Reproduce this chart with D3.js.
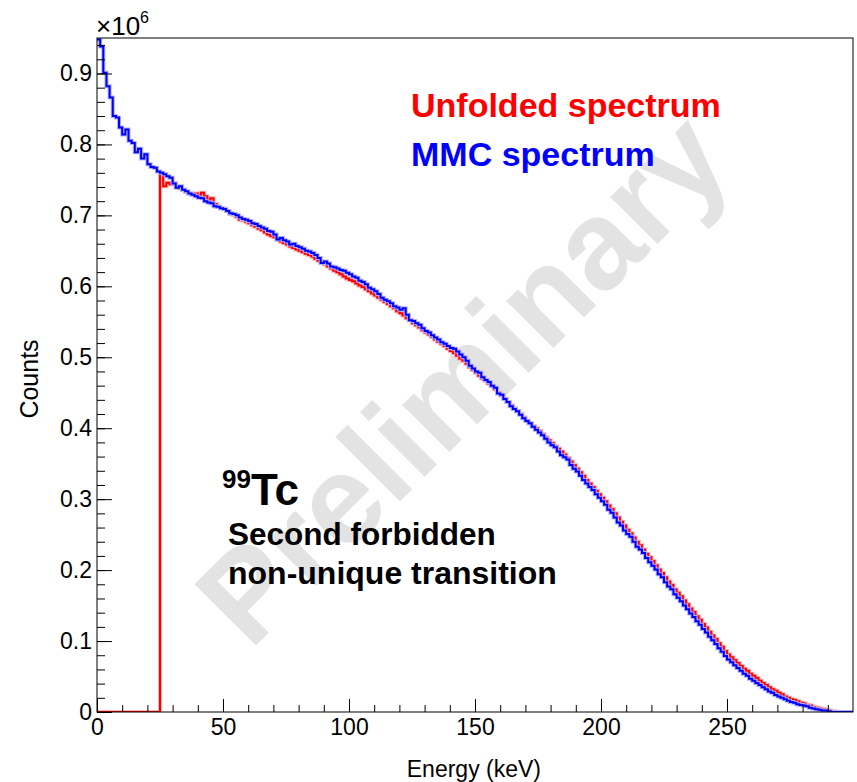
<!DOCTYPE html>
<html>
<head>
<meta charset="utf-8">
<script src="https://cdn.jsdelivr.net/npm/d3@7"></script>
<style>
  body { margin: 0; background: #fff; }
  svg { display: block; font-family: "Liberation Sans", Arial, Helvetica, sans-serif; }
</style>
</head>
<body>
<svg id="chart" width="857" height="782"></svg>
<script>
// Histogram binning (keV)
const binWidth = 1.25;
const energyRange = [0, 300];

// Axis ticks
const energyTicks = [0, 50, 100, 150, 200, 250];
const energyMinorTicks = d3.range(0, 300, 10);
const countTicks = [0, 0.1, 0.2, 0.3, 0.4, 0.5, 0.6, 0.7, 0.8, 0.9];
const countMinorTicks = d3.range(0, 0.95, 0.02);

// MMC spectrum, counts per bin in units of 1e3
const mmcSpectrum = [
  948, 938, 901, 882, 866, 840, 838, 824, 814, 821, 805, 802, 789, 794, 780, 786,
  772, 768, 767, 762, 760, 758, 755, 753, 745, 739, 741, 736, 734, 731, 729, 727,
  725, 724, 720, 718, 717, 713, 712, 710, 709, 706, 703, 702, 700, 697, 695, 694,
  692, 689, 688, 685, 683, 681, 678, 677, 673, 666, 668, 665, 663, 659, 660, 657,
  655, 653, 650, 649, 647, 644, 640, 633, 635, 632, 628, 627, 625, 623, 622, 619,
  617, 614, 612, 608, 606, 603, 598, 596, 593, 589, 584, 581, 579, 576, 572, 570,
  567, 569, 560, 552, 551, 548, 546, 541, 537, 535, 531, 528, 525, 521, 519, 516,
  513, 512, 508, 504, 500, 495, 488, 484, 480, 478, 472, 468, 465, 460, 457, 449,
  447, 441, 437, 431, 427, 424, 419, 414, 410, 407, 402, 398, 394, 390, 385, 380,
  376, 373, 367, 362, 359, 356, 348, 343, 339, 333, 327, 322, 317, 313, 307, 302,
  297, 292, 285, 281, 274, 267, 263, 256, 251, 247, 240, 233, 229, 224, 217, 211,
  206, 201, 194, 190, 183, 177, 173, 166, 161, 156, 150, 145, 139, 134, 128, 123,
  117, 112, 106, 101, 96, 90, 85, 79, 74, 70, 66, 62, 58, 54, 51, 47,
  44, 41, 38, 35, 32, 29, 27, 24, 22, 20, 18, 16, 14, 13, 11, 10,
  9, 8, 6, 5, 4, 3, 2, 2, 1, 0, 0, 0, 0, 0, 0, 0
];

// Unfolded spectrum, counts per bin in units of 1e3 (histogram stops at 293.75 keV)
const unfoldedSpectrum = [
  0, 0, 0, 0, 0, 0, 0, 0, 0, 0, 0, 0, 0, 0, 0, 0,
  0, 0, 0, 0, 760, 741, 746, 744, 745, 740, 738, 736, 733, 731, 730, 731,
  729, 732, 727, 722, 724, 716, 712, 710, 709, 706, 702, 701, 698, 694, 693, 691,
  689, 686, 684, 681, 679, 676, 673, 671, 669, 666, 663, 661, 659, 656, 654, 652,
  650, 648, 646, 644, 642, 639, 636, 633, 631, 628, 625, 622, 620, 617, 614, 611,
  609, 607, 604, 601, 599, 596, 593, 590, 587, 584, 581, 578, 575, 572, 569, 565,
  562, 559, 555, 552, 548, 545, 542, 538, 535, 532, 529, 525, 522, 519, 516, 512,
  509, 506, 502, 498, 495, 491, 486, 482, 478, 474, 470, 467, 463, 459, 455, 450,
  446, 442, 437, 432, 428, 424, 420, 415, 411, 407, 403, 400, 396, 392, 387, 383,
  379, 375, 371, 367, 363, 358, 353, 348, 343, 338, 333, 327, 322, 317, 312, 307,
  302, 297, 291, 286, 280, 274, 268, 263, 257, 252, 246, 240, 235, 229, 223, 218,
  213, 207, 201, 196, 190, 184, 179, 173, 168, 163, 157, 152, 146, 141, 135, 130,
  124, 119, 113, 108, 103, 97, 92, 86, 81, 77, 73, 69, 65, 61, 58, 54,
  51, 48, 44, 41, 38, 35, 32, 30, 27, 25, 22, 20, 18, 17, 15, 13,
  12, 10, 9, 7, 6, 5, 4, 3, 2, 1, 1
];

const series = [
  {name: 'Unfolded spectrum', color: '#ff0000', halo: '#ffb0b0', values: unfoldedSpectrum},
  {name: 'MMC spectrum', color: '#0000ff', halo: '#b0b0ff', values: mmcSpectrum}
];

const frame = {left: 97, top: 38, right: 853, bottom: 712};

const svg = d3.select('#chart');

const x = d3.scaleLinear().domain(energyRange).range([frame.left, frame.right]);
const y = d3.scaleLinear().domain([0, 0.95]).range([frame.bottom, frame.top]);

svg.append('defs').
  append('clipPath').
    attr('id', 'plot-clip').
  append('rect').
    attr('x', frame.left).
    attr('y', frame.top).
    attr('width', frame.right - frame.left).
    attr('height', frame.bottom - frame.top);

// Watermark sits behind everything
svg.append('text').
  attr('transform', 'translate(462,378) rotate(-45)').
  attr('text-anchor', 'middle').
  attr('dominant-baseline', 'central').
  attr('font-weight', 'bold').
  attr('font-size', 126).
  attr('fill', '#e3e3e3').
  text('Preliminary');

// Histogram as a step line: one point per bin edge
const stepLine = d3.line().
  x((d) => x(d.edge)).
  y((d) => y(d.value / 1000)).
  curve(d3.curveStepAfter);

const toSteps = (values) => {
  const pts = values.map((v, i) => ({edge: i * binWidth, value: v}));
  pts.push({edge: values.length * binWidth, value: values[values.length - 1]});
  return pts;
};

const plot = svg.append('g').attr('clip-path', 'url(#plot-clip)');
series.forEach((s) => {
  plot.append('path').
    attr('d', stepLine(toSteps(s.values))).
    attr('fill', 'none').
    attr('stroke', s.halo).
    attr('stroke-width', 4);
  plot.append('path').
    attr('d', stepLine(toSteps(s.values))).
    attr('fill', 'none').
    attr('stroke', s.color).
    attr('stroke-width', 2);
});

// Axes, ticks point inward like ROOT
const xAxis = svg.append('g').attr('transform', `translate(0,${frame.bottom})`);
xAxis.call(d3.axisBottom(x).tickValues(energyMinorTicks).tickSize(-7).tickFormat(''));
xAxis.append('g').call(d3.axisBottom(x).tickValues(energyTicks).tickSize(-13).tickPadding(7).tickFormat(d3.format('d')));

const yAxis = svg.append('g').attr('transform', `translate(${frame.left},0)`);
yAxis.call(d3.axisLeft(y).tickValues(countMinorTicks).tickSize(-8).tickFormat(''));
yAxis.append('g').call(d3.axisLeft(y).tickValues(countTicks).tickSize(-15).tickPadding(5).
  tickFormat((d) => (d === 0 ? '0' : d3.format('.1f')(d))));

svg.selectAll('.domain').remove();
svg.selectAll('.tick line').attr('stroke', '#000').attr('stroke-width', 1);
svg.selectAll('.tick text').
  attr('font-family', '"Liberation Sans", Arial, sans-serif').
  attr('font-size', 23).
  attr('fill', '#000');

svg.append('rect').
  attr('x', frame.left).
  attr('y', frame.top).
  attr('width', frame.right - frame.left).
  attr('height', frame.bottom - frame.top).
  attr('fill', 'none').
  attr('stroke', '#000').
  attr('stroke-width', 1);

// Exponent above the y axis
const expo = svg.append('text').attr('x', 96).attr('y', 35).attr('font-size', 26);
expo.append('tspan').text('\u00d710');
expo.append('tspan').attr('dy', -12).attr('font-size', 16).text('6');

// Axis titles
svg.append('text').
  attr('x', 541).
  attr('y', 777).
  attr('text-anchor', 'end').
  attr('font-size', 23).
  text('Energy (keV)');

svg.append('text').
  attr('transform', 'translate(38,379) rotate(-90)').
  attr('text-anchor', 'middle').
  attr('font-size', 25).
  text('Counts');

// Legend
svg.selectAll('.legend').
  data(series).
  enter().append('text').
    attr('class', 'legend').
    attr('x', 411).
    attr('y', (d, i) => 117 + i * 49).
    attr('font-size', 34).
    attr('font-weight', 'bold').
    attr('fill', (d) => d.color).
    text((d) => d.name);

// Annotation
const iso = svg.append('text').attr('x', 222).attr('y', 505).attr('font-weight', 'bold');
iso.append('tspan').attr('font-size', 26).attr('dy', -17).text('99');
iso.append('tspan').attr('font-size', 44).attr('dy', 17).text('Tc');

svg.append('text').
  attr('x', 228).
  attr('y', 545).
  attr('font-size', 31.5).
  attr('font-weight', 'bold').
  text('Second forbidden');

svg.append('text').
  attr('x', 228).
  attr('y', 584).
  attr('font-size', 32).
  attr('font-weight', 'bold').
  text('non-unique transition');
</script>
</body>
</html>
